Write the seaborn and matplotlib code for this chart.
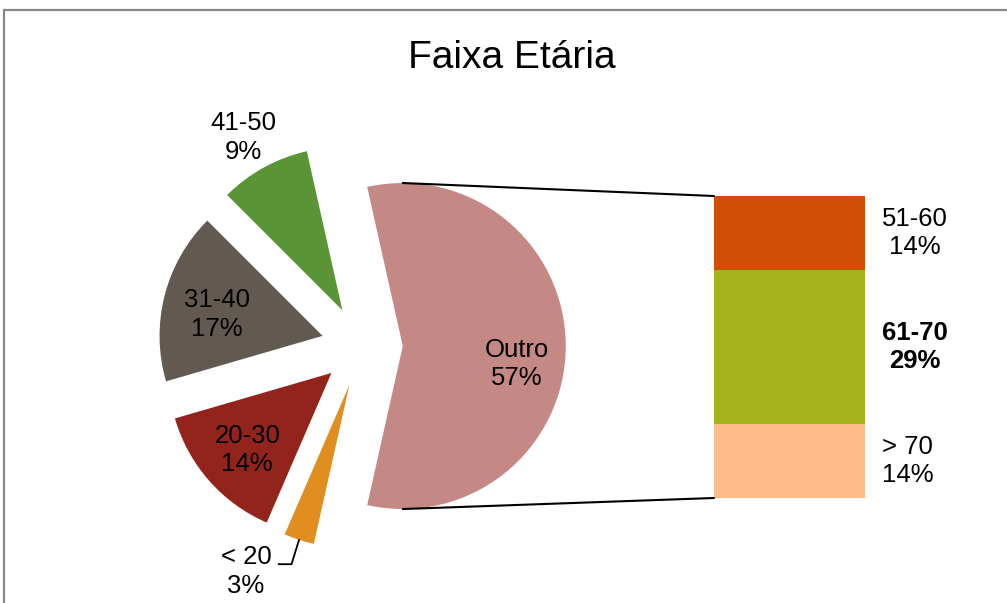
import numpy as np
import matplotlib
matplotlib.use("Agg")
import matplotlib.pyplot as plt
from matplotlib.patches import Rectangle, ConnectionPatch
import seaborn as sns

# pie part (drawing order, counter-clockwise starting with the "Outro" slice)
pie_labels = ["Outro", "41-50", "31-40", "20-30", "< 20"]
bar_labels = ["> 70", "61-70", "51-60"]      # bottom to top
bar_values = [14, 29, 14]
pie_values = [sum(bar_values), 9, 17, 14, 3]

pie_colors = ["#C48985", "#5A9435", "#625A50", "#93241B", "#E18E20"]
bar_colors = ["#FCBB88", "#A4B31A", "#D24D05"]

sns.set_theme(style="white")
plt.rcParams["font.family"] = ["Liberation Sans", "DejaVu Sans"]

fig = plt.figure(figsize=(10.07, 6.03), dpi=100)
fig.patch.set_facecolor("white")

# chart frame (only left and top edges visible)
fig.add_artist(Rectangle((4 / 1007, -0.2), 1.5, 1.2 - 10 / 603,
                         transform=fig.transFigure, fill=False,
                         edgecolor="#888888", lw=1.6))

fig.text(512 / 1007, 1 - 58 / 603, "Faixa Etária", ha="center", va="center",
         fontsize=28, color="black")

# ---- pie ----
ax_pie = fig.add_axes([0.1167, 0.0207, 489 / 1007, 489 / 603])
total = sum(pie_values)
start = -pie_values[0] / total * 180
wedges, _ = ax_pie.pie(pie_values, colors=pie_colors, startangle=start,
                       explode=[0.25] * len(pie_values), radius=1,
                       wedgeprops=dict(linewidth=0))
ax_pie.set_xlim(-1.5, 1.5)
ax_pie.set_ylim(-1.5, 1.5)
ax_pie.set_aspect("equal")
ax_pie.axis("off")

lbl_dist = [0.71, 1.22, 0.66, 0.70, 1.31]
lbl_shift = [-9, 1, 3, 1, -11]
for w, name, v, d, s in zip(wedges, pie_labels, pie_values, lbl_dist, lbl_shift):
    mid = np.deg2rad((w.theta1 + w.theta2) / 2 + s)
    cx, cy = w.center
    lx, ly = cx + d * np.cos(mid), cy + d * np.sin(mid)
    ax_pie.text(lx, ly, f"{name}\n{round(v / total * 100)}%", ha="center",
                va="center", fontsize=18.5, color="black", linespacing=1.25)
    if d > 1.25:
        # leader line for the small slice
        m0 = np.deg2rad((w.theta1 + w.theta2) / 2)
        ax_pie.plot([cx + np.cos(m0), lx + 0.28, lx + 0.20],
                    [cy + np.sin(m0), ly + 0.045, ly + 0.045],
                    color="black", lw=1.3, clip_on=False)

# ---- stacked bar ----
ax_bar = fig.add_axes([714 / 1007, 1 - 498 / 603, 151 / 1007, 302 / 603])
bottom = 0
for name, v, c in zip(bar_labels, bar_values, bar_colors):
    sns.barplot(x=[0], y=[v], bottom=bottom, color=c, width=1,
                saturation=1, ax=ax_bar, linewidth=0)
    ax_bar.text(0.613, bottom + v / 2, f"{name}\n{round(v / total * 100)}%",
                ha="left", va="center", fontsize=18.5, color="black",
                linespacing=1.25,
                multialignment="left" if name == "> 70" else "center",
                fontweight="bold" if name == "61-70" else "normal")
    bottom += v
ax_bar.set_xlim(-0.5, 0.5)
ax_bar.set_ylim(0, sum(bar_values))
ax_bar.axis("off")

# connector lines between the "Outro" slice and the bar
ow = wedges[0]
ox, oy = ow.center
for py, by in [(oy + ow.r, sum(bar_values)), (oy - ow.r, 0)]:
    con = ConnectionPatch(xyA=(ox, py), coordsA=ax_pie.transData,
                          xyB=(-0.5, by), coordsB=ax_bar.transData,
                          color="black", lw=1.5)
    fig.add_artist(con)

fig.savefig("out.png", dpi=100, facecolor="white")
